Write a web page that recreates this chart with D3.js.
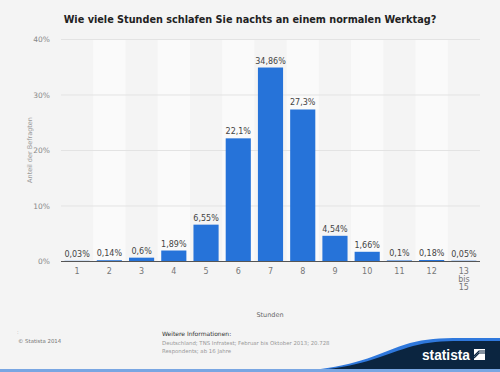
<!DOCTYPE html>
<html>
<head>
<meta charset="utf-8">
<script src="https://cdn.jsdelivr.net/npm/d3@7"></script>
<style>
  body { margin: 0; background: #f4f4f4; }
  svg { display: block; font-family: "DejaVu Sans", sans-serif; }
</style>
</head>
<body>
<div id="chart"></div>
<script>
var categories = ["1", "2", "3", "4", "5", "6", "7", "8", "9", "10", "11", "12", "13 bis 15"];
var values = [0.03, 0.14, 0.6, 1.89, 6.55, 22.1, 34.86, 27.3, 4.54, 1.66, 0.1, 0.18, 0.05];
var valueLabels = ["0,03%", "0,14%", "0,6%", "1,89%", "6,55%", "22,1%", "34,86%", "27,3%", "4,54%", "1,66%", "0,1%", "0,18%", "0,05%"];
var yTicks = [0, 10, 20, 30, 40];

var width = 500;
var height = 372;
var plotLeft = 61, plotRight = 480, plotTop = 39, plotBottom = 261;

var svg = d3.select("#chart")
  .append("svg")
  .attr("width", width)
  .attr("height", height);

svg.append("rect")
  .attr("width", width)
  .attr("height", height)
  .attr("fill", "#f4f4f4");

var xscale = d3.scaleBand()
  .domain(categories)
  .range([plotLeft, plotRight])
  .padding(0);

var yscale = d3.scaleLinear()
  .domain([0, 40])
  .range([plotBottom, plotTop]);

// alternating column backgrounds
svg.append("g")
  .selectAll("rect")
  .data(categories.filter(function (d, i) { return i % 2 == 1; }))
  .enter()
  .append("rect")
  .attr("x", function (d) { return xscale(d); })
  .attr("y", plotTop)
  .attr("width", xscale.bandwidth())
  .attr("height", plotBottom - plotTop)
  .attr("fill", "#fafafa");

// grid lines
svg.append("g")
  .selectAll("line")
  .data(yTicks.filter(function (d) { return d > 0; }))
  .enter()
  .append("line")
  .attr("x1", plotLeft)
  .attr("x2", plotRight)
  .attr("y1", function (d) { return yscale(d) + 0.5; })
  .attr("y2", function (d) { return yscale(d) + 0.5; })
  .attr("stroke", "#e3e3e3")
  .attr("stroke-width", 1);

// y tick labels
svg.append("g")
  .selectAll("text")
  .data(yTicks)
  .enter()
  .append("text")
  .attr("x", 50)
  .attr("y", function (d) { return yscale(d) + 3; })
  .attr("text-anchor", "end")
  .attr("font-size", "7.5px")
  .attr("fill", "#888")
  .text(function (d) { return d + "%"; });

// bars
var barW = xscale.bandwidth() * 0.78;
svg.append("g")
  .selectAll("rect")
  .data(values)
  .enter()
  .append("rect")
  .attr("x", function (d, i) { return xscale(categories[i]) + (xscale.bandwidth() - barW) / 2; })
  .attr("y", function (d) { return yscale(d); })
  .attr("width", barW)
  .attr("height", function (d) { return plotBottom - yscale(d); })
  .attr("fill", "#2673d9");

// value labels
svg.append("g")
  .selectAll("text")
  .data(values)
  .enter()
  .append("text")
  .attr("x", function (d, i) { return xscale(categories[i]) + xscale.bandwidth() / 2; })
  .attr("y", function (d) { return yscale(d) - 4; })
  .attr("text-anchor", "middle")
  .attr("font-size", "8px")
  .attr("fill", "#444")
  .text(function (d, i) { return valueLabels[i]; });

// x axis line
svg.append("line")
  .attr("x1", plotLeft)
  .attr("x2", plotRight)
  .attr("y1", plotBottom + 0.5)
  .attr("y2", plotBottom + 0.5)
  .attr("stroke", "#555")
  .attr("stroke-width", 1);

// x tick labels (wrap "13 bis 15")
var xl = svg.append("g")
  .selectAll("text")
  .data(categories)
  .enter()
  .append("text")
  .attr("text-anchor", "middle")
  .attr("font-size", "8px")
  .attr("fill", "#777")
  .attr("y", plotBottom + 13);

xl.each(function (d) {
  var words = d.split(" ");
  var t = d3.select(this);
  var cx = xscale(d) + xscale.bandwidth() / 2;
  words.forEach(function (w, k) {
    t.append("tspan")
      .attr("x", cx)
      .attr("dy", k == 0 ? 0 : 8)
      .text(w);
  });
});

// axis titles
svg.append("text")
  .attr("transform", "translate(32," + ((plotTop + plotBottom) / 2) + ") rotate(-90)")
  .attr("text-anchor", "middle")
  .attr("font-size", "6.5px")
  .attr("fill", "#999")
  .text("Anteil der Befragten");

svg.append("text")
  .attr("x", 270)
  .attr("y", 317)
  .attr("text-anchor", "middle")
  .attr("font-size", "6.5px")
  .attr("fill", "#666")
  .text("Stunden");

// title
svg.append("text")
  .attr("x", 250)
  .attr("y", 23)
  .attr("text-anchor", "middle")
  .attr("font-size", "9.7px")
  .attr("font-weight", "bold")
  .attr("fill", "#222")
  .text("Wie viele Stunden schlafen Sie nachts an einem normalen Werktag?");

// footer
svg.append("text")
  .attr("x", 17).attr("y", 334)
  .attr("font-size", "5px").attr("fill", "#999")
  .text(":");

svg.append("text")
  .attr("x", 18).attr("y", 343)
  .attr("font-size", "5.4px").attr("fill", "#777")
  .text("© Statista 2014");

svg.append("text")
  .attr("x", 162).attr("y", 336)
  .attr("font-size", "6px").attr("fill", "#333")
  .text("Weitere Informationen:");

svg.append("text")
  .attr("x", 162).attr("y", 345)
  .attr("font-size", "5.4px").attr("fill", "#999")
  .text("Deutschland; TNS Infratest; Februar bis Oktober 2013; 20.728");

svg.append("text")
  .attr("x", 162).attr("y", 353)
  .attr("font-size", "5.4px").attr("fill", "#999")
  .text("Respondents; ab 16 Jahre");

// logo swoosh
svg.append("path")
  .attr("d", "M310,370 C360,366 380,352 410,343 C425,339 440,338 460,338 L500,338 L500,370 Z")
  .attr("fill", "#2f78dc");
svg.append("path")
  .attr("d", "M318,370 C365,366 385,354 413,346 C428,342 442,341 460,341 L500,341 L500,370 Z")
  .attr("fill", "#0b2540");

svg.append("text")
  .attr("x", 422).attr("y", 360)
  .attr("font-family", "Liberation Sans, sans-serif")
  .attr("font-size", "14px")
  .attr("font-weight", "bold")
  .attr("fill", "#ffffff")
  .attr("textLength", 48)
  .attr("lengthAdjust", "spacingAndGlyphs")
  .text("statista");

svg.append("rect")
  .attr("x", 474).attr("y", 349).attr("width", 11).attr("height", 11)
  .attr("fill", "#ffffff");
svg.append("path")
  .attr("d", "M474,358 L479,353 L485,353 M474,356 L479,351 L485,351")
  .attr("stroke", "#0b2540").attr("stroke-width", 1.2).attr("fill", "none");

// bottom strip
svg.append("rect")
  .attr("x", 0).attr("y", 369).attr("width", width).attr("height", 3)
  .attr("fill", "#79a6e2");
</script>
</body>
</html>
